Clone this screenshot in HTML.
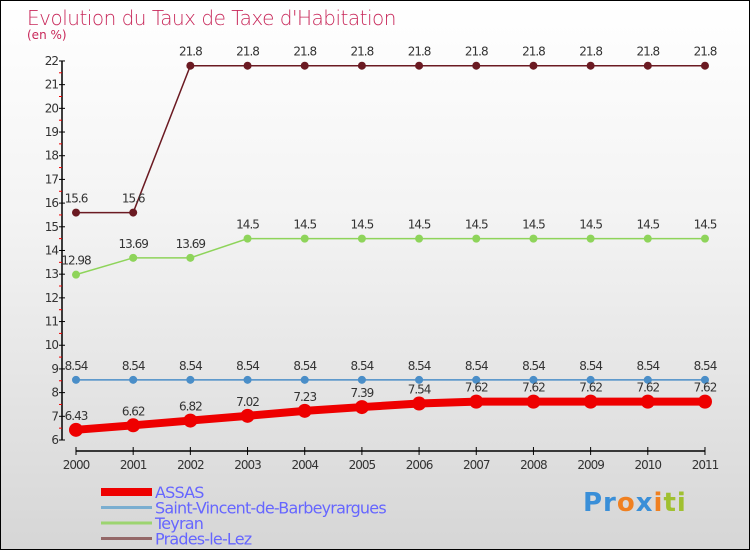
<!DOCTYPE html>
<html><head><meta charset="utf-8"><style>
body{margin:0}
#c{width:748px;height:548px;border:1px solid #000;background:linear-gradient(#fff,#f3f3f3 40%,#d6d6d6);position:relative;font-family:"DejaVu Sans","Liberation Sans",sans-serif;overflow:hidden}
.t{position:absolute;color:#c8285a}
</style></head><body>
<div id="c">
<div class="t" style="left:26px;top:5px;font-size:20px;font-weight:200;letter-spacing:-0.5px">Evolution du Taux de Taxe d'Habitation</div>
<div class="t" style="left:26px;top:27px;font-size:12px">(en %)</div>
<svg id="s" width="748" height="548" style="position:absolute;left:0;top:0"></svg>
<div style="position:absolute;left:582px;top:487px;font-size:26px;font-weight:bold;letter-spacing:1px"><span style="color:#3a8fd8">Pr</span><span style="color:#f08020">o</span><span style="color:#3a8fd8">x</span><span style="color:#f08020">i</span><span style="color:#a0c030">ti</span></div>
</div>
<script>
const years=[2000,2001,2002,2003,2004,2005,2006,2007,2008,2009,2010,2011];
const assas=[6.43,6.62,6.82,7.02,7.23,7.39,7.54,7.62,7.62,7.62,7.62,7.62];
const stvincent=[8.54,8.54,8.54,8.54,8.54,8.54,8.54,8.54,8.54,8.54,8.54,8.54];
const teyran=[12.98,13.69,13.69,14.5,14.5,14.5,14.5,14.5,14.5,14.5,14.5,14.5];
const prades=[15.6,15.6,21.8,21.8,21.8,21.8,21.8,21.8,21.8,21.8,21.8,21.8];
const yTicks=[6,7,8,9,10,11,12,13,14,15,16,17,18,19,20,21,22];
const s=document.getElementById('s');const NS='http://www.w3.org/2000/svg';
function X(i){return 75+i*57.18;}
function Y(v){return 439-(v-6)*23.69;}
function el(t,a,txt){const e=document.createElementNS(NS,t);for(const k in a)e.setAttribute(k,a[k]);if(txt!==undefined)e.textContent=txt;s.appendChild(e);return e;}
let e=el('line',{x1:61,y1:Y(22),x2:61,y2:Y(6),stroke:'#000','stroke-width':1.5});


yTicks.forEach(v=>{el('line',{x1:58,x2:64,y1:Y(v),y2:Y(v),stroke:'#000'});
 if(v<22)el('line',{x1:58,x2:61,y1:Y(v+0.5),y2:Y(v+0.5),stroke:'#e00'});
 const t=el('text',{x:57,y:Y(v)+4,'text-anchor':'end','font-size':12,fill:'#333','letter-spacing':'-1'},v);
 
 });
e=el('line',{x1:75,y1:450,x2:X(11),y2:450,stroke:'#000','stroke-width':1.5});


years.forEach((y,i)=>{el('line',{x1:X(i),x2:X(i),y1:446,y2:454,stroke:'#000'});
 const t=el('text',{x:X(i),y:468,'text-anchor':'middle','font-size':12,fill:'#333','letter-spacing':'-1'},y);
 
 });
function series(d,col,w,r,name){
 const p=el('polyline',{points:d.map((v,i)=>X(i)+','+Y(v)).join(' '),fill:'none',stroke:col,'stroke-width':w});
 
 
 d.forEach((v,i)=>{const c=el('circle',{cx:X(i),cy:Y(v),r:r,fill:col});
  
  
  el('text',{x:X(i),y:Y(v)-10,'text-anchor':'middle','font-size':12,fill:'#333','letter-spacing':'-1'},v);});
}
series(prades,'#6b1a22',1.5,4,'prades');
series(teyran,'#8ed45a',1.5,4,'teyran');
series(stvincent,'#4a8ec8',1.5,4,'saint-vincent');
series(assas,'#e00',8,7,'assas');
const leg=[['ASSAS','#e00',8],['Saint-Vincent-de-Barbeyrargues','#7aaed0',3],['Teyran','#9cd470',3],['Prades-le-Lez','#946868',3]];
leg.forEach((l,i)=>{const y=491+i*15.5;
 el('line',{x1:100,x2:151,y1:y,y2:y,stroke:l[1],'stroke-width':l[2]});
 const t=el('text',{x:154,y:y+6,'font-size':16,fill:'#6666ff','letter-spacing':'-0.8'},l[0]);
 
 });
</script>
</body></html>
